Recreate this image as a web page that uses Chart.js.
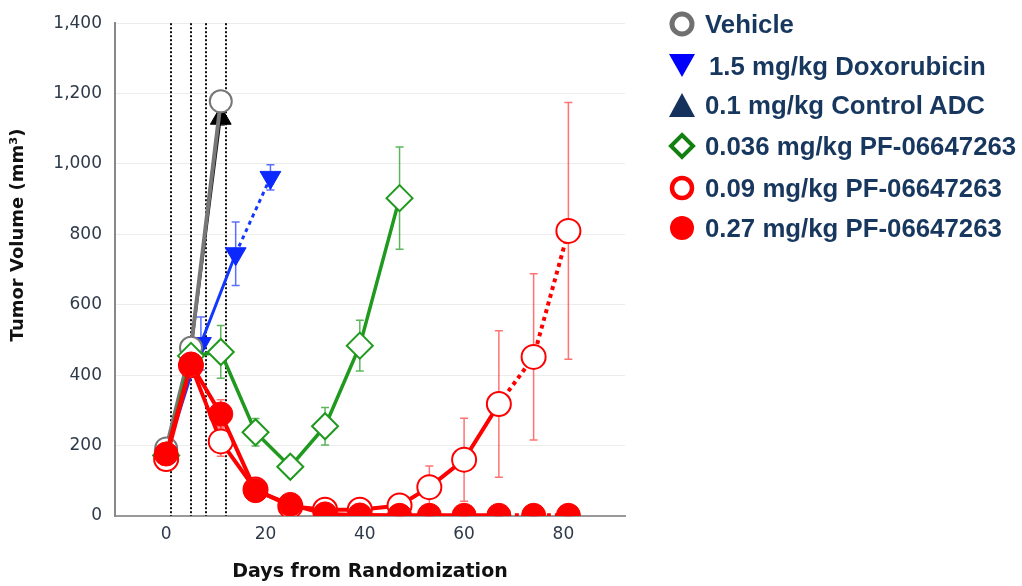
<!DOCTYPE html>
<html>
<head>
<meta charset="utf-8">
<script src="https://cdn.jsdelivr.net/npm/chart.js@4.4.1/dist/chart.umd.min.js"></script>
<style>
    html, body {
        margin: 0;
        padding: 0;
        background: #fff;
    }

    .wrap {
        position: relative;
        width: 1022px;
        height: 586px;
    }

    #tumorChart {
        position: absolute;
        left: 0;
        top: 0;
    }

    .legend {
        position: absolute;
        left: 665px;
        top: 0;
    }

    .legend-row {
        position: absolute;
        left: 0;
        height: 30px;
        display: flex;
        align-items: center;
        white-space: nowrap;
        font-family: "Liberation Sans", Arial, sans-serif;
        font-weight: bold;
        font-size: 25.8px;
        color: #17375e;
    }

    .legend-row svg {
        width: 34px;
        height: 30px;
        margin-right: 6px;
        flex: none;
    }
</style>
</head>
<body>
<div class="wrap">
    <canvas id="tumorChart" width="1022" height="586"></canvas>
    <div class="legend" id="legend"></div>
</div>

<script>
/* ====================================
   DATA
==================================== */

const dosingDays = [1, 5, 8, 12];

const xTicks = [0, 20, 40, 60, 80];

const vehicleDays = [0, 5, 11];
const vehicleVolume = [192, 478, 1178];
const vehicleError = [10, 25, 15];

const doxoDays = [0, 7, 14, 21];
const doxoVolume = [178, 490, 745, 962];
const doxoError = [10, 75, 90, 36];

const controlDays = [0, 5, 11];
const controlVolume = [185, 465, 1130];
const controlError = [10, 30, 20];

const pf036Days = [0, 5, 11, 18, 25, 32, 39, 47];
const pf036Volume = [172, 455, 466, 238, 140, 255, 484, 903];
const pf036Error = [10, 30, 75, 39, 17, 53, 72, 145];

const pf09Days = [0, 5, 11, 18, 25, 32, 39, 47, 53, 60, 67, 74, 81];
const pf09Volume = [162, 428, 212, 75, 28, 18, 18, 30, 82, 160, 318, 452, 810];
const pf09Error = [10, 30, 42, 10, 8, 5, 5, 28, 60, 118, 208, 236, 365];

const pf27Days = [0, 5, 11, 18, 25, 32, 39, 47, 53, 60, 67, 74, 81];
const pf27Volume = [176, 432, 290, 72, 33, 6, 3, 2, 2, 2, 2, 2, 2];
const pf27Error = [10, 28, 40, 10, 6, 2, 1, 1, 1, 1, 1, 1, 1];

const seriesNames = [
    "Vehicle",
    "1.5 mg/kg Doxorubicin",
    "0.1 mg/kg Control ADC",
    "0.036 mg/kg PF-06647263",
    "0.09 mg/kg PF-06647263",
    "0.27 mg/kg PF-06647263"
];

/* ====================================
   HELPERS
==================================== */

function toPoints(days, values) {

    return days.map((d, i) => ({ x: d, y: values[i] }));

}

function dottedAfter(day) {

    return {
        borderDash: ctx =>
            ctx.p0.parsed.x >= day ? [4, 4] : undefined
    };

}

// clip points at the x axis, like the original
const clipArea = { left: 20, top: 20, right: 20, bottom: 0 };

/* ====================================
   PLUGINS
==================================== */

const dosingLinesPlugin = {

    id: "dosingLines",

    beforeDatasetsDraw(chart) {

        const { ctx, chartArea, scales } = chart;

        ctx.save();
        ctx.strokeStyle = "#111";
        ctx.lineWidth = 2;
        ctx.setLineDash([2, 2]);

        dosingDays.forEach(day => {

            const px = Math.round(scales.x.getPixelForValue(day));

            ctx.beginPath();
            ctx.moveTo(px, chartArea.top);
            ctx.lineTo(px, chartArea.bottom);
            ctx.stroke();

        });

        ctx.restore();

    }

};

const errorBarsPlugin = {

    id: "errorBars",

    beforeDatasetsDraw(chart) {

        const { ctx, scales } = chart;

        ctx.save();

        chart.data.datasets.forEach((ds, i) => {

            const meta = chart.getDatasetMeta(i);

            ctx.strokeStyle = ds.errorColor;
            ctx.lineWidth = 1.5;

            meta.data.forEach((pt, j) => {

                const v = ds.data[j].y;
                const e = ds.errors[j];
                const top = scales.y.getPixelForValue(v + e);
                const bottom = scales.y.getPixelForValue(Math.max(v - e, 0));
                const x = pt.x;

                ctx.beginPath();
                ctx.moveTo(x, top);
                ctx.lineTo(x, bottom);
                ctx.moveTo(x - 4, top);
                ctx.lineTo(x + 4, top);
                ctx.moveTo(x - 4, bottom);
                ctx.lineTo(x + 4, bottom);
                ctx.stroke();

            });

        });

        ctx.restore();

    }

};

const yTitlePlugin = {

    id: "yTitle",

    afterDraw(chart) {

        const { ctx } = chart;

        ctx.save();
        ctx.translate(18, 235);
        ctx.rotate(-Math.PI / 2);
        ctx.font = "bold 18px 'DejaVu Sans'";
        ctx.fillStyle = "#111";
        ctx.textAlign = "center";
        ctx.textBaseline = "middle";
        ctx.fillText("Tumor Volume (mm³)", 0, 0);
        ctx.restore();

    }

};

/* ====================================
   CHART
==================================== */

function createTumorChart() {

    const canvas = document.getElementById("tumorChart");

    new Chart(canvas, {

        type: "line",

        data: {

            datasets: [

                {
                    label: seriesNames[5],
                    data: toPoints(pf27Days, pf27Volume),
                    errors: pf27Error,
                    errorColor: "rgba(255,0,0,0.55)",
                    borderColor: "#ff0000",
                    backgroundColor: "#ff0000",
                    pointBackgroundColor: "#ff0000",
                    pointBorderColor: "#ff0000",
                    borderWidth: 4,
                    pointRadius: 12,
                    pointBorderWidth: 1,
                    clip: clipArea,
                    segment: dottedAfter(67)
                },

                {
                    label: seriesNames[4],
                    data: toPoints(pf09Days, pf09Volume),
                    errors: pf09Error,
                    errorColor: "rgba(255,0,0,0.55)",
                    borderColor: "#ff0000",
                    pointBackgroundColor: "#fff",
                    pointBorderColor: "#ff0000",
                    borderWidth: 4,
                    pointRadius: 12,
                    pointBorderWidth: 2,
                    clip: clipArea,
                    segment: dottedAfter(67)
                },

                {
                    label: seriesNames[3],
                    data: toPoints(pf036Days, pf036Volume),
                    errors: pf036Error,
                    errorColor: "rgba(26,150,26,0.7)",
                    borderColor: "#1f9a1f",
                    pointStyle: "rectRot",
                    pointBackgroundColor: "#fff",
                    pointBorderColor: "#1f9a1f",
                    borderWidth: 3.5,
                    pointRadius: 13,
                    pointBorderWidth: 2,
                    clip: clipArea
                },

                {
                    label: seriesNames[0],
                    data: toPoints(vehicleDays, vehicleVolume),
                    errors: vehicleError,
                    errorColor: "rgba(90,90,90,0.7)",
                    borderColor: "#777",
                    pointBackgroundColor: "#fff",
                    pointBorderColor: "#777",
                    borderWidth: 4,
                    pointRadius: 11,
                    pointBorderWidth: 2,
                    clip: clipArea
                },

                {
                    label: seriesNames[2],
                    data: toPoints(controlDays, controlVolume),
                    errors: controlError,
                    errorColor: "rgba(0,0,0,0.6)",
                    borderColor: "#111",
                    pointStyle: "triangle",
                    pointBackgroundColor: "#000",
                    pointBorderColor: "#000",
                    borderWidth: 2,
                    pointRadius: 12,
                    pointBorderWidth: 1,
                    clip: clipArea
                },

                {
                    label: seriesNames[1],
                    data: toPoints(doxoDays, doxoVolume),
                    errors: doxoError,
                    errorColor: "rgba(20,50,255,0.7)",
                    borderColor: "#1238ff",
                    pointStyle: "triangle",
                    rotation: 180,
                    pointBackgroundColor: "#0b28ff",
                    pointBorderColor: "#0b28ff",
                    borderWidth: 3,
                    pointRadius: 12,
                    pointBorderWidth: 1,
                    clip: clipArea,
                    segment: dottedAfter(14)
                }

            ]

        },

        options: {

            responsive: false,
            animation: false,

            layout: {
                padding: { top: 21, right: 397, left: 0, bottom: 0 }
            },

            plugins: {
                legend: { display: false },
                tooltip: { enabled: false }
            },

            scales: {

                x: {
                    type: "linear",
                    min: -10.3,
                    max: 92.4,
                    afterBuildTicks: scale => {
                        scale.ticks = xTicks.map(v => ({ value: v }));
                    },
                    afterFit: scale => {
                        scale.height = 70;
                    },
                    grid: { display: false, drawTicks: false },
                    border: { color: "#999", width: 2 },
                    ticks: {
                        padding: 8,
                        color: "#2e3a4a",
                        font: { family: "'DejaVu Sans'", size: 17 }
                    },
                    title: {
                        display: true,
                        text: "Days from Randomization",
                        color: "#111",
                        font: { family: "'DejaVu Sans'", size: 19, weight: "bold" },
                        padding: { top: 0, bottom: 3 }
                    }
                },

                y: {
                    min: 0,
                    max: 1400,
                    afterFit: scale => {
                        scale.width = 115;
                    },
                    grid: { color: "#ececec", drawTicks: false },
                    border: { color: "#888", width: 2 },
                    ticks: {
                        stepSize: 200,
                        padding: 13,
                        color: "#2e3a4a",
                        font: { family: "'DejaVu Sans'", size: 17 },
                        callback: v => v.toLocaleString("en-US")
                    }
                }

            }

        },

        plugins: [dosingLinesPlugin, errorBarsPlugin, yTitlePlugin]

    });

}

/* ====================================
   LEGEND
==================================== */

const legendMarkers = [
    '<circle cx="17" cy="15" r="10" fill="#fff" stroke="#707070" stroke-width="5"/>',
    '<polygon points="4,3 30,3 17,26" fill="#0000ff"/>',
    '<polygon points="4,27 30,27 17,3" fill="#14325c"/>',
    '<polygon points="17,4 28,15 17,26 6,15" fill="#fff" stroke="#118011" stroke-width="4"/>',
    '<circle cx="17" cy="15" r="10" fill="#fff" stroke="#ff0000" stroke-width="4.5"/>',
    '<circle cx="17" cy="15" r="12" fill="#ff0000"/>'
];

const legendRowsY = [24, 66, 105, 146, 188, 228];

function buildLegend() {

    const legend = document.getElementById("legend");

    seriesNames.forEach((name, i) => {

        const row = document.createElement("div");

        row.className = "legend-row";
        row.style.top = (legendRowsY[i] - 15) + "px";
        row.innerHTML =
            '<svg viewBox="0 0 34 30">' + legendMarkers[i] + "</svg>" +
            "<span" + (i === 1 ? ' style="margin-left:4px"' : "") + ">" + name + "</span>";

        legend.appendChild(row);

    });

}

document.addEventListener("DOMContentLoaded", () => {

    createTumorChart();

    buildLegend();

});
</script>
</body>
</html>
